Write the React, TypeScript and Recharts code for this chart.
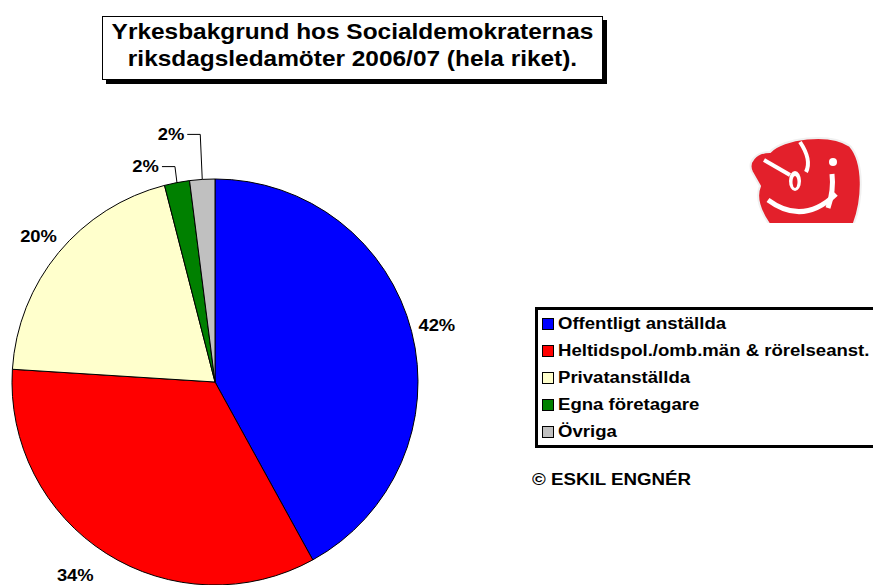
import React from 'react';
import { PieChart, Pie, Cell } from 'recharts';

const categories = [
  'Offentligt anställda',
  'Heltidspol./omb.män & rörelseanst.',
  'Privatanställda',
  'Egna företagare',
  'Övriga',
];
const shares = [42, 34, 20, 2, 2];
const colors = ['#0000FF', '#FF0000', '#FFFFCC', '#008000', '#C0C0C0'];
const titleLines = [
  'Yrkesbakgrund hos Socialdemokraternas',
  'riksdagsledamöter 2006/07 (hela riket).',
];
const credit = '© ESKIL ENGNÉR';

const data = categories.map((name, i) => ({ name, value: shares[i] }));

const FONT = '"Liberation Sans", Arial, sans-serif';
const RAD = Math.PI / 180;
// the original image is stretched sideways a little, so the text is too
const STRETCH = 1.15;

const Stretched = ({ x, y, anchor, children }: any) => (
  <text
    transform={`translate(${x},${y}) scale(${STRETCH},1)`}
    textAnchor={anchor}
    dominantBaseline="central"
    fill="#000"
    style={{ fontFamily: FONT, fontWeight: 700, fontSize: 16 }}
  >
    {children}
  </text>
);

const renderLabel = (props: any) => {
  const { cx, cy, midAngle, outerRadius, percent, index } = props;
  const cos = Math.cos(-midAngle * RAD);
  const sin = Math.sin(-midAngle * RAD);
  const text = `${Math.round(percent * 100)}%`;

  if (percent < 0.05) {
    // small slices get an elbow leader line, like the Excel original
    const ex = cx + outerRadius * cos;
    const ey = cy + outerRadius * sin;
    const ly = ey - (16 + (index - 3) * 29);
    return (
      <g>
        <path
          d={`M${ex},${ey} L${ex - 2},${ly} L${ex - 15},${ly}`}
          stroke="#000"
          strokeWidth={1}
          fill="none"
        />
        <Stretched x={ex - 18} y={ly} anchor="end">{text}</Stretched>
      </g>
    );
  }

  const r = outerRadius + 26;
  const nudge = index === 1 ? -17 : 0;
  return (
    <Stretched x={cx + r * cos + nudge} y={cy + r * sin} anchor="middle">
      {text}
    </Stretched>
  );
};

const LegendBox = () => (
  <div
    style={{
      position: 'absolute',
      left: 535,
      top: 307,
      width: 360,
      height: 141,
      boxSizing: 'border-box',
      border: '3px solid #000',
      background: '#fff',
      padding: '0 0 0 4px',
      fontFamily: FONT,
      fontWeight: 700,
      fontSize: 16,
    }}
  >
    {categories.map((c, i) => (
      <div key={c} style={{ display: 'flex', alignItems: 'center', height: 27, whiteSpace: 'nowrap' }}>
        <span
          style={{
            display: 'inline-block',
            width: 10,
            height: 10,
            background: colors[i],
            border: '1px solid #000',
            marginRight: 4,
            flex: 'none',
          }}
        />
        <span style={{ display: 'inline-block', transform: 'scaleX(1.16)', transformOrigin: 'left center' }}>
          {c}
        </span>
      </div>
    ))}
  </div>
);

const Logo = () => (
  <svg width={873} height={585} style={{ position: 'absolute', left: 0, top: 0, pointerEvents: 'none' }}>
    <defs>
      <clipPath id="logoClip">
        <rect x={740} y={130} width={130} height={93} />
      </clipPath>
    </defs>
    <g clipPath="url(#logoClip)">
      <path
        d="M770 152 C782 138 830 132 850 146 C864 162 864 200 852 228 L772 228 C760 212 755 198 760 186 L752 172 C747 162 756 152 770 152 Z"
        fill="#E3202B"
        stroke="#f0f0f0"
        strokeWidth={2}
      />
      <path d="M768 200 Q803 226 836 194" stroke="#fff" strokeWidth={5} fill="none" />
      <path d="M764 160 L790 175" stroke="#fff" strokeWidth={4} fill="none" />
      <path d="M800 142 Q812 160 806 172" stroke="#fff" strokeWidth={4} fill="none" />
      <ellipse cx={795} cy={181} rx={6} ry={10} fill="#fff" />
      <ellipse cx={795} cy={182} rx={2.5} ry={6} fill="#E3202B" />
      <path d="M832 174 Q834 190 828 208" stroke="#fff" strokeWidth={5} fill="none" />
      <circle cx={833} cy={162} r={4} fill="#fff" />
    </g>
  </svg>
);

export default function App() {
  return (
    <div
      style={{
        position: 'absolute',
        left: 0,
        top: 0,
        width: 873,
        height: 585,
        overflow: 'hidden',
        background: '#fff',
      }}
    >
      <PieChart width={873} height={585} margin={{ top: 0, right: 0, bottom: 0, left: 0 }}>
        <Pie
          data={data}
          dataKey="value"
          nameKey="name"
          cx={215}
          cy={382}
          outerRadius={203}
          startAngle={90}
          endAngle={-270}
          stroke="#000"
          strokeWidth={1}
          label={renderLabel}
          labelLine={false}
          isAnimationActive={false}
        >
          {data.map((d, i) => (
            <Cell key={d.name} fill={colors[i]} />
          ))}
        </Pie>
      </PieChart>

      <LegendBox />

      <div
        style={{
          position: 'absolute',
          left: 102,
          top: 16,
          width: 501,
          height: 64,
          boxSizing: 'border-box',
          border: '1px solid #000',
          boxShadow: '4px 4px 0 #000',
          background: '#fff',
          fontFamily: FONT,
          fontWeight: 700,
          fontSize: 22,
          lineHeight: '27px',
          textAlign: 'center',
          paddingTop: 1,
        }}
      >
        {titleLines.map((t) => (
          <div key={t} style={{ transform: 'scaleX(1.11)' }}>{t}</div>
        ))}
      </div>

      <div
        style={{
          position: 'absolute',
          left: 532,
          top: 471,
          fontFamily: FONT,
          fontWeight: 700,
          fontSize: 16,
          whiteSpace: 'nowrap',
          transform: 'scaleX(1.17)',
          transformOrigin: 'left center',
        }}
      >
        {credit}
      </div>

      <Logo />
    </div>
  );
}
